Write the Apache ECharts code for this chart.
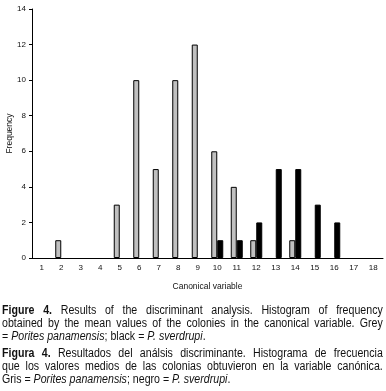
<!DOCTYPE html>
<html>
<head>
<meta charset="utf-8">
<script src="https://cdn.jsdelivr.net/npm/echarts@6/dist/echarts.min.js"></script>
<style>
  html, body { margin: 0; padding: 0; background: #fff; }
  #chart { position: absolute; left: 0; top: 0; width: 386px; height: 391px; }
  .ln {
    position: absolute; left: 2px; width: 448px; height: 13px;
    transform: scaleX(0.85); transform-origin: 0 0;
    font-family: "Liberation Sans", Arial, sans-serif;
    font-size: 12.5px; line-height: 13px; color: #111; white-space: nowrap;
  }
  .ln.j { text-align: justify; text-align-last: justify; white-space: normal; }
  .ln b { font-weight: bold; }
</style>
</head>
<body>
<div id="chart"></div>
<div class="ln j" style="top:304px"><b>Figure 4.</b> Results of the discriminant analysis. Histogram of frequency</div>
<div class="ln j" style="top:317px">obtained by the mean values of the colonies in the canonical variable. Grey</div>
<div class="ln" style="top:330px">= <i>Porites panamensis</i>; black = <i>P. sverdrupi</i>.</div>
<div class="ln j" style="top:347px"><b>Figura 4.</b> Resultados del análsis discriminante. Histograma de frecuencia</div>
<div class="ln j" style="top:360px">que los valores medios de las colonias obtuvieron en la variable canónica.</div>
<div class="ln" style="top:373px">Gris = <i>Porites panamensis</i>; negro = <i>P. sverdrupi</i>.</div>
<script>
const categories = ['1', '2', '3', '4', '5', '6', '7', '8', '9', '10', '11', '12', '13', '14', '15', '16', '17', '18']
const panamensis = [0, 1, 0, 0, 3, 10, 5, 10, 12, 6, 4, 1, 0, 1, 0, 0, 0, 0]
const sverdrupi = [0, 0, 0, 0, 0, 0, 0, 0, 0, 1, 1, 2, 5, 5, 3, 2, 0, 0]

const chart = echarts.init(document.getElementById('chart'))
const axisFont = { fontFamily: 'Liberation Sans, Arial, sans-serif', fontSize: 8, color: '#111' }
// empty bins draw nothing in the original
const noZero = arr => arr.map(v => (v === 0 ? '-' : v))

chart.setOption({
  animation: false,
  grid: { left: 32, right: 3, top: 9, bottom: 133, outerBoundsMode: 'none' },
  xAxis: {
    type: 'category',
    data: categories,
    name: 'Canonical variable',
    nameLocation: 'middle',
    nameGap: 24,
    nameMoveOverlap: false,
    nameTextStyle: { ...axisFont, fontSize: 8.5 },
    axisLine: { lineStyle: { color: '#000', width: 1 } },
    axisTick: { length: 3, lineStyle: { color: '#000' } },
    axisLabel: { ...axisFont, margin: 6 }
  },
  yAxis: {
    type: 'value',
    min: 0,
    max: 14,
    interval: 2,
    name: 'Frequency',
    nameLocation: 'middle',
    nameGap: 18,
    nameMoveOverlap: false,
    nameTextStyle: { ...axisFont, fontSize: 8.5 },
    axisLine: { show: true, lineStyle: { color: '#000', width: 1 } },
    axisTick: { show: true, length: 3, lineStyle: { color: '#000' } },
    axisLabel: { ...axisFont, margin: 6 },
    splitLine: { show: false }
  },
  series: [
    {
      name: 'Porites panamensis',
      type: 'bar',
      data: noZero(panamensis),
      barWidth: 6,
      barGap: '0%',
      itemStyle: { color: '#c0c0c0', borderColor: '#000', borderWidth: 1 }
    },
    {
      name: 'P. sverdrupi',
      type: 'bar',
      data: noZero(sverdrupi),
      barWidth: 6,
      barGap: '0%',
      itemStyle: { color: '#000', borderColor: '#000', borderWidth: 1 }
    }
  ]
})
</script>
</body>
</html>
